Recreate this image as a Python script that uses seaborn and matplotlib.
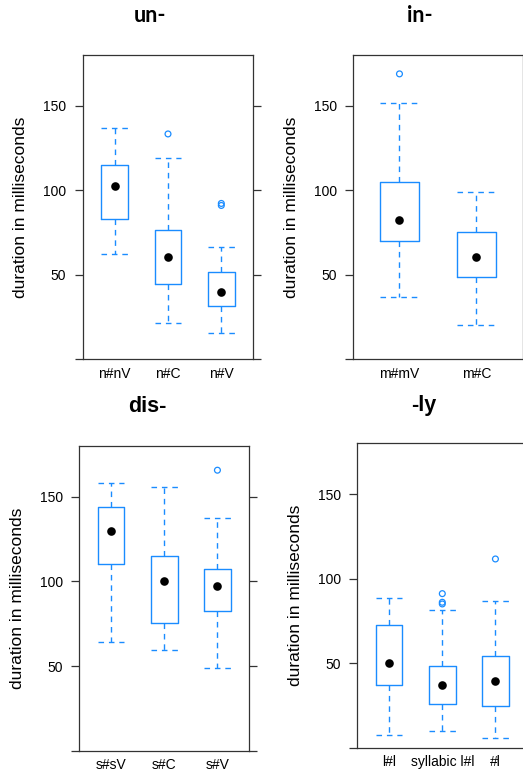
import pandas as pd
import matplotlib.pyplot as plt
import seaborn as sns

# box statistics (milliseconds)
UN_CATS = ["n#nV", "n#C", "n#V"]
UN_LOW = [62.4, 21.5, 15.8]
UN_Q1 = [83.2, 44.7, 31.5]
UN_MED = [102.3, 60.4, 40.0]
UN_Q3 = [114.8, 76.5, 51.6]
UN_HIGH = [136.6, 119.0, 66.5]
UN_OUT_CAT = ["n#C", "n#V", "n#V"]
UN_OUT_VAL = [133.3, 92.2, 91.0]

IN_CATS = ["m#mV", "m#C"]
IN_LOW = [37.0, 20.5]
IN_Q1 = [70.2, 48.6]
IN_MED = [82.5, 60.8]
IN_Q3 = [104.8, 75.1]
IN_HIGH = [151.8, 98.9]
IN_OUT_CAT = ["m#mV"]
IN_OUT_VAL = [169.0]

DIS_CATS = ["s#sV", "s#C", "s#V"]
DIS_LOW = [64.3, 59.3, 48.6]
DIS_Q1 = [110.5, 75.6, 82.5]
DIS_MED = [130.0, 100.0, 97.3]
DIS_Q3 = [144.1, 114.9, 107.5]
DIS_HIGH = [157.9, 155.9, 137.6]
DIS_OUT_CAT = ["s#V"]
DIS_OUT_VAL = [165.7]

LY_CATS = ["l#l", "syllabic l#l", "#l"]
LY_LOW = [7.7, 10.0, 5.7]
LY_Q1 = [36.8, 26.0, 24.8]
LY_MED = [50.0, 37.2, 39.6]
LY_Q3 = [72.6, 48.4, 54.1]
LY_HIGH = [88.4, 81.3, 86.6]
LY_OUT_CAT = ["syllabic l#l", "syllabic l#l", "syllabic l#l", "#l"]
LY_OUT_VAL = [91.1, 86.0, 85.0, 111.6]

Y_TICKS = [0, 50, 100, 150]
Y_TICK_LABELS = ["", "50", "100", "150"]

BLUE = "#1a8cff"
W, H = 523, 774


def draw_panel(fig, rect, title, title_xy, title_font, cats, low, q1, med, q3, high, out_cat, out_val):
    ax = fig.add_axes(rect)
    # five values per group -> quartiles come out exactly, whiskers at min/max
    rows = []
    for i, c in enumerate(cats):
        for v in (low[i], q1[i], med[i], q3[i], high[i]):
            rows.append({"cat": c, "ms": v})
    df = pd.DataFrame(rows)

    dash = (0, (4, 3.5))
    sns.boxplot(data=df, x="cat", y="ms", order=cats, ax=ax, width=0.5,
                whis=(0, 100), fill=False, color=BLUE, saturation=1,
                linewidth=1.0, showfliers=False, capwidths=0.5,
                whiskerprops={"linestyle": dash},
                capprops={"linestyle": dash},
                medianprops={"visible": False})
    sns.stripplot(x=cats, y=med, order=cats, ax=ax, jitter=False,
                  color="black", size=6.2, zorder=5)
    sns.stripplot(x=out_cat, y=out_val, order=cats, ax=ax, jitter=False,
                  marker="o", size=4.2, facecolors="none", edgecolor=BLUE,
                  linewidth=0.9, zorder=5)

    ax.set_xlim(-0.6, len(cats) - 0.4)
    ax.set_ylim(0, 180)
    ax.set_yticks(Y_TICKS)
    ax.set_yticklabels(Y_TICK_LABELS)
    ax.set_xlabel("")
    ax.set_ylabel("")
    ax.tick_params(axis="y", direction="out", length=5.5, width=0.9,
                   color="#333333", left=True, right=True, labelleft=True,
                   labelright=False, pad=6.5, labelsize=10, labelcolor="black")
    ax.tick_params(axis="x", length=0, pad=5.5, labelsize=10, labelcolor="black")
    for s in ax.spines.values():
        s.set_visible(True)
        s.set_color("#333333")
        s.set_linewidth(0.9)

    # y label and panel title in pixel positions of the reference
    x0 = rect[0] * W
    yc = (1 - rect[1] - rect[3] / 2) * H
    fig.text((x0 - 62) / W, 1 - yc / H, "duration in milliseconds",
             rotation=90, ha="center", va="center", fontsize=12.5, color="black")
    fig.text(title_xy[0] / W, 1 - title_xy[1] / H, title, ha="center",
             va="baseline", fontsize=15.5, fontweight="bold",
             family=title_font, color="black")
    return ax


def main():
    sns.set_style("white")
    plt.rcParams["font.family"] = ["Liberation Sans", "DejaVu Sans"]

    fig = plt.figure(figsize=(W / 100, H / 100), dpi=100)

    def rect(left, right, top, bottom):
        return [left / W, 1 - bottom / H, (right - left) / W, (bottom - top) / H]

    draw_panel(fig, rect(82.7, 253.3, 55, 359.3), "un-", (150, 21.7), "Lato",
               UN_CATS, UN_LOW, UN_Q1, UN_MED, UN_Q3, UN_HIGH, UN_OUT_CAT, UN_OUT_VAL)
    draw_panel(fig, rect(353.3, 522.6, 55.3, 359.3), "in-", (420, 21.7), "Lato",
               IN_CATS, IN_LOW, IN_Q1, IN_MED, IN_Q3, IN_HIGH, IN_OUT_CAT, IN_OUT_VAL)
    draw_panel(fig, rect(79.3, 249.3, 446, 750.7), "dis-", (147, 411.5), "Liberation Sans",
               DIS_CATS, DIS_LOW, DIS_Q1, DIS_MED, DIS_Q3, DIS_HIGH, DIS_OUT_CAT, DIS_OUT_VAL)
    draw_panel(fig, rect(357.3, 527.3, 443.3, 747.7), "-ly", (424, 410.5), "Liberation Sans",
               LY_CATS, LY_LOW, LY_Q1, LY_MED, LY_Q3, LY_HIGH, LY_OUT_CAT, LY_OUT_VAL)

    fig.savefig("out.png", dpi=100)


if __name__ == "__main__":
    main()
